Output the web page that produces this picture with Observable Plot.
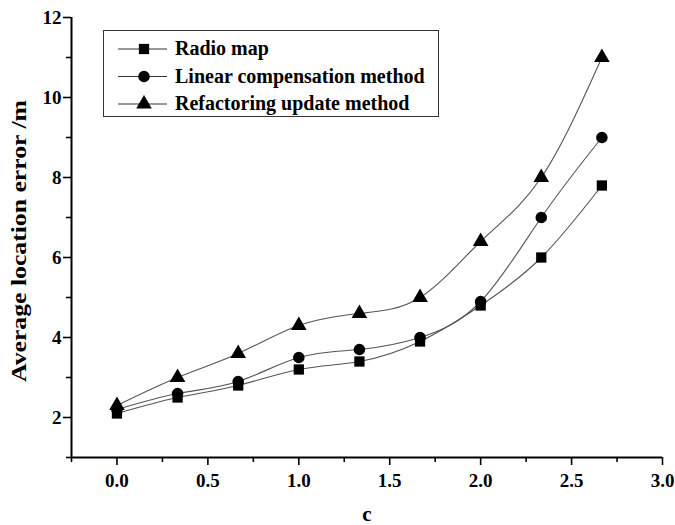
<!DOCTYPE html>
<html><head><meta charset="utf-8">
<script src="https://cdn.jsdelivr.net/npm/d3@7"></script>
<script src="https://cdn.jsdelivr.net/npm/@observablehq/plot@0.6"></script>
<style>
body{margin:0;background:#fff;}
#chart{position:relative;width:675px;height:525px;}
</style></head>
<body><div id="chart"></div>
<script>
const cValues = [0, 1/3, 2/3, 1, 4/3, 5/3, 2, 7/3, 8/3];
const radioMap = [2.1, 2.5, 2.8, 3.2, 3.4, 3.9, 4.8, 6.0, 7.8];
const linearComp = [2.2, 2.6, 2.9, 3.5, 3.7, 4.0, 4.9, 7.0, 9.0];
const refactoring = [2.3, 3.0, 3.6, 4.3, 4.6, 5.0, 6.4, 8.0, 11.0];
const seriesNames = ["Radio map", "Linear compensation method", "Refactoring update method"];
const seriesSymbols = ["square", "circle", "triangle"];
const xMajor = [0, 0.5, 1, 1.5, 2, 2.5, 3];
const xMinor = [-0.25, 0.25, 0.75, 1.25, 1.75, 2.25, 2.75];
const yMajor = [2, 4, 6, 8, 10, 12];
const yMinor = [1, 3, 5, 7, 9, 11];

const seriesValues = [radioMap, linearComp, refactoring];
const data = seriesValues.flatMap((vals, i) => vals.map((v, j) => ({c: cValues[j], y: v, s: seriesNames[i]})));

const font = "'Liberation Serif', 'Times New Roman', serif";
const x0 = -0.25, y0 = 1;
const chart = Plot.plot({
  width: 675, height: 525,
  marginLeft: 71, marginTop: 17, marginRight: 13, marginBottom: 68,
  style: {fontFamily: font, fontWeight: "bold", color: "#000", background: "#fff"},
  x: {domain: [x0, 3], label: null, axis: null},
  y: {domain: [y0, 12], label: null, axis: null},
  symbol: {domain: seriesNames, range: seriesSymbols},
  marks: [
    // x ticks
    Plot.ruleX(xMajor, {x: d => d, y1: y0, y2: y0, insetBottom: -8, stroke: "#000", strokeWidth: 1.6}),
    Plot.ruleX(xMinor, {x: d => d, y1: y0, y2: y0, insetBottom: -5, stroke: "#000", strokeWidth: 1.6}),
    Plot.text(xMajor, {x: d => d, y: y0, dy: 23, text: d => d3.format(".1f")(d), fontSize: 19, fontWeight: "bold", fontFamily: font, fill: "#000"}),
    // y ticks
    Plot.ruleY(yMajor, {y: d => d, x1: x0, x2: x0, insetLeft: -8, stroke: "#000", strokeWidth: 1.6}),
    Plot.ruleY(yMinor, {y: d => d, x1: x0, x2: x0, insetLeft: -5, stroke: "#000", strokeWidth: 1.6}),
    Plot.text(yMajor, {x: x0, y: d => d, dx: -10, text: d => String(d), textAnchor: "end", fontSize: 19, fontWeight: "bold", fontFamily: font, fill: "#000"}),
    // axis lines
    Plot.ruleY([y0], {stroke: "#000", strokeWidth: 2}),
    Plot.ruleX([x0], {stroke: "#000", strokeWidth: 2}),
    Plot.line(data, {x: "c", y: "y", z: "s", curve: "natural", stroke: "#555", strokeWidth: 1.1}),
    Plot.dot(data, {x: "c", y: "y", symbol: "s", fill: "#000", stroke: "none", r: 5.8})
  ]
});
document.getElementById("chart").appendChild(chart);

const svg = d3.select(chart);
// Axis titles
svg.append("text").attr("transform", "translate(26,241) rotate(-90)")
  .attr("text-anchor", "middle").attr("font-family", font).attr("font-weight", "bold").attr("font-size", 21)
  .attr("textLength", 282).attr("lengthAdjust", "spacingAndGlyphs")
  .text("Average location error /m");
svg.append("text").attr("x", 367).attr("y", 521)
  .attr("text-anchor", "middle").attr("font-family", font).attr("font-weight", "bold").attr("font-size", 21)
  .text("c");

// Legend
const lg = svg.append("g");
lg.append("rect").attr("x", 103.5).attr("y", 30.5).attr("width", 335).attr("height", 86)
  .attr("fill", "#fff").attr("stroke", "#333").attr("stroke-width", 1);
const symGen = {square: d3.symbolSquare, circle: d3.symbolCircle, triangle: d3.symbolTriangle};
seriesNames.forEach((name, i) => {
  const yy = 49 + i * 27.5;
  lg.append("line").attr("x1", 118).attr("x2", 167).attr("y1", yy).attr("y2", yy).attr("stroke", "#333").attr("stroke-width", 1);
  lg.append("path").attr("transform", `translate(144,${yy})`)
    .attr("d", d3.symbol(symGen[seriesSymbols[i]], Math.PI * 5.8 * 5.8)()).attr("fill", "#000");
  lg.append("text").attr("x", 175).attr("y", yy + 6).attr("text-anchor", "start")
    .attr("font-family", font).attr("font-weight", "bold").attr("font-size", 20)
    .text(name);
});
</script></body></html>
